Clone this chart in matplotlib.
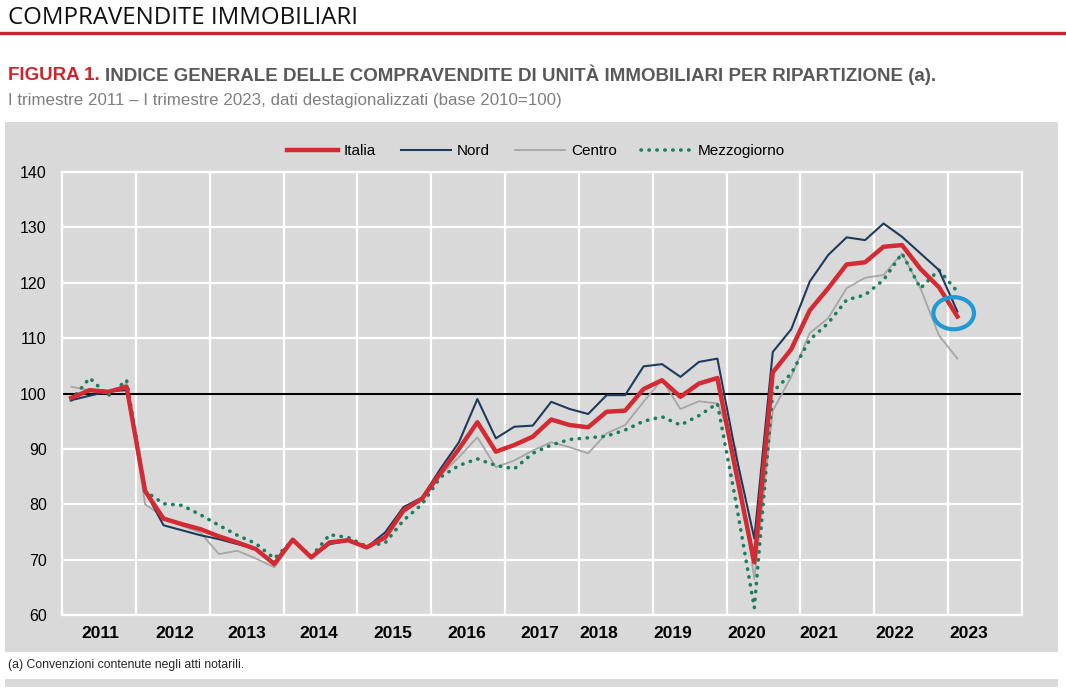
import matplotlib
matplotlib.use("Agg")
import matplotlib.pyplot as plt
from matplotlib import font_manager as fm
from matplotlib.patches import Rectangle, Ellipse
from matplotlib.lines import Line2D
import numpy as np

names = {f.name for f in fm.fontManager.ttflist}
NARROW = 'Liberation Sans Narrow' if 'Liberation Sans Narrow' in names else 'Liberation Sans'

# ---- data (2011 Q1 ... 2023 Q1, quarterly, base 2010=100) ----
italia = [99.2, 100.6, 100.3, 101.2,
          82.4, 77.4, 76.4, 75.5,
          74.2, 73.1, 71.9, 69.2,
          73.6, 70.4, 73.1, 73.5,
          72.2, 74.0, 78.9, 81.0,
          85.6, 90.0, 94.8, 89.5,
          90.7, 92.2, 95.3, 94.3,
          93.9, 96.7, 96.9, 100.8,
          102.4, 99.4, 101.8, 102.8,
          86.0, 69.5, 103.8, 108.0,
          115.0, 119.0, 123.3, 123.7,
          126.5, 126.8, 122.5, 119.2,
          113.9]
nord = [98.8, 99.6, 100.4, 100.6,
        82.4, 76.2, 75.3, 74.4,
        73.7, 72.8, 71.9, 69.5,
        73.7, 70.4, 72.8, 73.4,
        72.2, 74.9, 79.5, 81.2,
        86.4, 91.2, 99.0, 91.9,
        94.0, 94.2, 98.5, 97.2,
        96.3, 99.7, 99.7, 104.9,
        105.3, 103.0, 105.7, 106.3,
        89.0, 73.8, 107.5, 111.6,
        120.2, 125.0, 128.2, 127.7,
        130.7, 128.3, 125.3, 122.3,
        114.8]
centro = [101.2, 100.6, 100.0, 101.8,
          80.0, 77.7, 76.1, 74.9,
          71.0, 71.6, 70.2, 68.6,
          73.4, 70.4, 73.3, 73.4,
          72.2, 74.3, 78.5, 81.0,
          85.2, 88.5, 92.1, 86.7,
          87.9, 89.7, 91.2, 90.3,
          89.2, 92.8, 94.3, 98.5,
          102.5, 97.2, 98.6, 98.2,
          90.0, 66.5, 96.9, 103.0,
          110.9, 113.6, 119.0, 120.9,
          121.4, 125.3, 119.0, 110.5,
          106.3]
mezzogiorno = [98.8, 102.8, 99.6, 102.4,
               82.4, 80.1, 79.8, 78.1,
               76.2, 74.4, 72.9, 70.2,
               73.5, 70.6, 74.5, 74.0,
               72.4, 73.0, 77.1, 80.0,
               84.9, 87.0, 88.2, 87.0,
               86.4, 89.2, 90.7, 91.7,
               92.0, 92.3, 93.4, 95.0,
               95.8, 94.3, 96.0, 98.2,
               80.5, 61.3, 100.3, 103.6,
               109.7, 112.7, 116.9, 117.8,
               120.5, 125.3, 119.0, 122.3,
               118.4]
year_labels = ['2011', '2012', '2013', '2014', '2015', '2016', '2017',
               '2018', '2019', '2020', '2021', '2022', '2023']
year_label_pos = [1.6, 5.6, 9.5, 13.4, 17.4, 21.4, 25.4,
                  28.6, 32.6, 36.6, 40.5, 44.6, 48.6]
y_ticks = [60, 70, 80, 90, 100, 110, 120, 130, 140]

W, H = 1066, 688
fig = plt.figure(figsize=(W / 100, H / 100), dpi=100)
fig.patch.set_facecolor('white')

def fx(px):
    return px / W

def fy(py):
    return 1 - py / H

PANEL = '#D9D9D9'
fig.patches.append(Rectangle((fx(5), fy(652)), fx(1058) - fx(5), fy(122) - fy(652),
                             transform=fig.transFigure, facecolor=PANEL, edgecolor='none', zorder=-5))
fig.patches.append(Rectangle((fx(5), fy(687)), fx(1058) - fx(5), fy(679) - fy(687),
                             transform=fig.transFigure, facecolor=PANEL, edgecolor='none', zorder=-5))
fig.add_artist(Line2D([0, 1], [fy(33), fy(33)], transform=fig.transFigure,
                      color='#C0282D', lw=2.4, zorder=-4))

fig.text(fx(8), fy(18), 'COMPRAVENDITE IMMOBILIARI', fontsize=17.3, family='Open Sans',
         color='#111111', va='center', ha='left')

t1 = fig.text(fx(8), fy(75), 'FIGURA 1.', fontsize=13.5, family=NARROW, weight='bold',
              color='#D2232A', va='center', ha='left')
fig.canvas.draw()
bb = t1.get_window_extent()
fig.text(bb.x1 / W + 0.005, fy(75),
         'INDICE GENERALE DELLE COMPRAVENDITE DI UNITÀ IMMOBILIARI PER RIPARTIZIONE (a).',
         fontsize=13.5, family=NARROW, weight='bold', color='#595959', va='center', ha='left')
fig.text(fx(8), fy(100),
         'I trimestre 2011 – I trimestre 2023, dati destagionalizzati (base 2010=100)',
         fontsize=12.2, family=NARROW, color='#7F7F7F', va='center', ha='left')
fig.text(fx(8), fy(665), '(a) Convenzioni contenute negli atti notarili.',
         fontsize=8.8, family=NARROW, color='#262626', va='center', ha='left')

ax = fig.add_axes([fx(62), fy(615), fx(1022) - fx(62), fy(172) - fy(615)])
ax.set_facecolor(PANEL)
x = np.arange(len(italia))

ax.plot(x, centro, color='#A6A6A6', lw=1.3, label='Centro', zorder=3)
ax.plot(x, mezzogiorno, color='#1B7F5E', lw=2.6, ls=(0, (0.1, 2.1)),
        dash_capstyle='round', solid_capstyle='round', label='Mezzogiorno', zorder=4)
ax.plot(x, nord, color='#1F3B5C', lw=1.5, label='Nord', zorder=5)
ax.plot(x, italia, color='#D42A33', lw=3.2, label='Italia', zorder=6)
ax.axhline(100, color='black', lw=1.5, zorder=2)

ax.set_xlim(-0.5, 51.5)
ax.set_ylim(60, 140)
ax.set_yticks(y_ticks)
ax.set_xticks(year_label_pos)
ax.set_xticklabels(year_labels, fontsize=12.5, family=NARROW, weight='bold', color='black')
ax.set_xticks(np.arange(3.5, 48, 4), minor=True)
ax.tick_params(axis='y', labelsize=11.5, length=0, pad=11, labelcolor='black')
for lab in ax.get_yticklabels():
    lab.set_family(NARROW)
ax.tick_params(axis='x', which='both', length=0, pad=8)
ax.grid(axis='y', which='major', color='white', lw=1.6, zorder=1)
ax.grid(axis='x', which='minor', color='white', lw=1.6, zorder=1)
ax.grid(axis='x', which='major', visible=False)
ax.set_axisbelow(True)
for s in ax.spines.values():
    s.set_color('white')
    s.set_linewidth(1.6)

ax.add_patch(Ellipse((47.8, 114.5), 2.2, 5.8, fill=False, edgecolor='#1E9AD6', lw=3, zorder=8))

handles = [
    Line2D([], [], color='#D42A33', lw=3.2),
    Line2D([], [], color='#1F3B5C', lw=1.5),
    Line2D([], [], color='#A6A6A6', lw=1.3),
    Line2D([], [], color='#1B7F5E', lw=2.6, ls=(0, (0.1, 2.1)), dash_capstyle='round'),
]
leg = ax.legend(handles, ['Italia', 'Nord', 'Centro', 'Mezzogiorno'], loc='center',
                bbox_to_anchor=(0.494, 1.047), ncol=4, frameon=False,
                prop={'family': NARROW, 'size': 11}, handlelength=3.3,
                handletextpad=0.4, columnspacing=1.6)

fig.savefig('out.png', dpi=100, facecolor='white')
